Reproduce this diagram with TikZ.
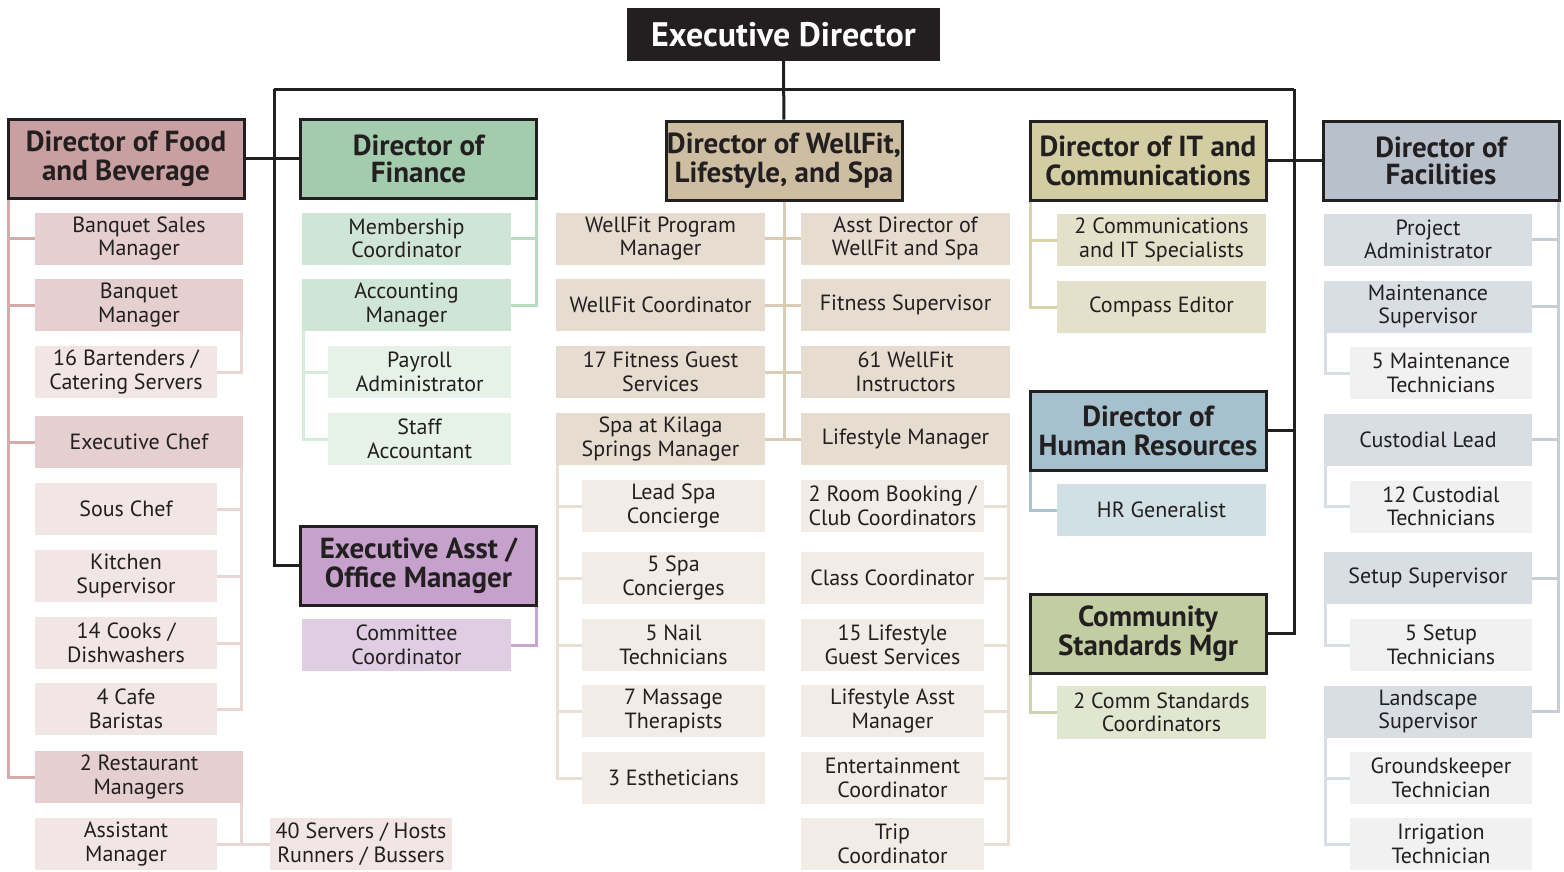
\documentclass[tikz,border=0pt]{standalone}
\usepackage{fontspec}
\setmainfont{PT Sans}
\definecolor{ink}{HTML}{231F20}
\definecolor{fbdir}{HTML}{C9A0A1}\definecolor{fbmid}{HTML}{E5CFD0}\definecolor{fblow}{HTML}{F1E5E5}
\definecolor{fbline}{HTML}{D4AAAB}\definecolor{fbthin}{HTML}{E9D6D6}
\definecolor{findir}{HTML}{A3CBAD}\definecolor{finmid}{HTML}{CFE5D5}\definecolor{finlow}{HTML}{E6F1E8}
\definecolor{finline}{HTML}{B8DCC2}\definecolor{finthin}{HTML}{D7EBDC}
\definecolor{eadir}{HTML}{C5A1CB}\definecolor{eamid}{HTML}{E0CDE4}\definecolor{ealine}{HTML}{C9A6CF}
\definecolor{wfdir}{HTML}{CDBEA2}\definecolor{wfmid}{HTML}{E6DCD0}\definecolor{wflow}{HTML}{F1ECE5}
\definecolor{wfline}{HTML}{D9CDB5}\definecolor{wfthin}{HTML}{E8E0D5}
\definecolor{itdir}{HTML}{D2CDA2}\definecolor{itmid}{HTML}{E4E1CB}\definecolor{itline}{HTML}{D7D3AC}
\definecolor{hrdir}{HTML}{A4C1CD}\definecolor{hrmid}{HTML}{D0E0E5}\definecolor{hrline}{HTML}{A9C5D1}
\definecolor{csdir}{HTML}{C2CDA2}\definecolor{csmid}{HTML}{E0E6D0}\definecolor{csline}{HTML}{CAD4AF}
\definecolor{facdir}{HTML}{B8C0CC}\definecolor{facmid}{HTML}{D9DEE5}\definecolor{faclow}{HTML}{F1F1F1}
\definecolor{facline}{HTML}{C6CDD7}\definecolor{facthin}{HTML}{D9DEE5}
\begin{document}
\begin{tikzpicture}[x=1pt,y=-1pt,every node/.style={inner sep=0pt,align=center,text=ink},
    dirbox/.style={draw=ink,line width=3pt,minimum width=236pt,minimum height=79pt,font=\fontsize{29}{29}\selectfont\bfseries},
    tight/.style={font=\fontsize{29}{27}\selectfont\bfseries},
    midbox/.style={minimum width=209pt,minimum height=52pt,font=\fontsize{22}{23.5}\selectfont},
    lowbox/.style={midbox,minimum width=183pt},
    link/.style={line width=3pt,draw=ink},
    spine/.style={line width=3pt}]
    \useasboundingbox (0,0) rectangle (1564,871);
    % top of the chart
    \node[fill=ink,minimum width=313pt,minimum height=53pt,text=white,font=\fontsize{34}{36}\selectfont\bfseries] (ed) at (783.5,34.5) {Executive Director};
    \coordinate (barL) at (274,89);
    \coordinate (barR) at (1294,89);

    % Food and Beverage
    \node[dirbox,fill=fbdir] (fb) at (126,158.5) {Director of Food\\and Beverage};
    \node[midbox,minimum width=208pt,fill=fbmid] (bsm) at (139,238.5) {Banquet Sales\\Manager};
    \node[midbox,minimum width=208pt,fill=fbmid] (bqm) at (139,305) {Banquet\\Manager};
    \node[lowbox,minimum width=182pt,fill=fblow] (bart) at (126,372) {16 Bartenders /\\Catering Servers};
    \node[midbox,minimum width=208pt,fill=fbmid] (chef) at (139,442) {Executive Chef};
    \node[lowbox,minimum width=182pt,fill=fblow] (sous) at (126,509) {Sous Chef};
    \node[lowbox,minimum width=182pt,fill=fblow] (kit) at (126,576) {Kitchen\\Supervisor};
    \node[lowbox,minimum width=182pt,fill=fblow] (cook) at (126,643) {14 Cooks /\\Dishwashers};
    \node[lowbox,minimum width=182pt,fill=fblow] (bari) at (126,709) {4 Cafe\\Baristas};
    \node[midbox,minimum width=208pt,fill=fbmid] (rest) at (139,777) {2 Restaurant\\Managers};
    \node[lowbox,minimum width=182pt,fill=fblow] (asst) at (126,844) {Assistant\\Manager};
    \node[lowbox,minimum width=182pt,fill=fblow] (serv) at (361,844) {40 Servers / Hosts\\Runners / Bussers};
    \foreach \n in {bsm,bqm,chef,rest}
        \draw[spine,fbline] ([xshift=2pt]fb.south west) |- (\n.west);
    \draw[spine,fbthin] ([xshift=-1.5pt]bqm.south east) |- (bart.east);
    \foreach \n in {sous,kit,cook,bari}
        \draw[spine,fbthin] ([xshift=-1.5pt]chef.south east) |- (\n.east);
    \draw[spine,fbthin] ([xshift=-1.5pt]rest.south east) |- (asst.east);
    \draw[spine,fbthin] ([xshift=-1.5pt]rest.south east) |- (serv.west);

    % Finance
    \node[dirbox,tight,fill=findir] (fin) at (418.5,158.5) {Director of\\Finance};
    \node[midbox,fill=finmid] (mem) at (406.5,238.5) {Membership\\Coordinator};
    \node[midbox,fill=finmid] (acc) at (406.5,305) {Accounting\\Manager};
    \node[lowbox,fill=finlow] (pay) at (419.5,372) {Payroll\\Administrator};
    \node[lowbox,fill=finlow] (stf) at (419.5,439) {Staff\\Accountant};
    \foreach \n in {mem,acc}
        \draw[spine,finline] ([xshift=-1.5pt]fin.south east) |- (\n.east);
    \foreach \n in {pay,stf}
        \draw[spine,finthin] ([xshift=2pt]acc.south west) |- (\n.west);

    % Executive Asst
    \node[dirbox,fill=eadir] (ea) at (418.5,565.5) {Executive Asst /\\Office Manager};
    \node[midbox,fill=eamid] (com) at (406.5,645) {Committee\\Coordinator};
    \draw[spine,ealine] ([xshift=-1.5pt]ea.south east) |- (com.east);

    % WellFit, Lifestyle and Spa
    \node[dirbox,fill=wfdir] (wf) at (784,160.5) {Director of WellFit,\\Lifestyle, and Spa};
    \node[midbox,fill=wfmid] (wpm) at (660.5,238.5) {WellFit Program\\Manager};
    \node[midbox,fill=wfmid] (wco) at (660.5,305) {WellFit Coordinator};
    \node[midbox,fill=wfmid] (fgs) at (660.5,372) {17 Fitness Guest\\Services};
    \node[midbox,fill=wfmid] (spa) at (660.5,439) {Spa at Kilaga\\Springs Manager};
    \node[midbox,fill=wfmid] (adw) at (905.5,238.5) {Asst Director of\\WellFit and Spa};
    \node[midbox,fill=wfmid] (fsu) at (905.5,305) {Fitness Supervisor};
    \node[midbox,fill=wfmid] (wfi) at (905.5,372) {61 WellFit\\Instructors};
    \node[midbox,fill=wfmid] (lsm) at (905.5,439) {Lifestyle Manager};
    \node[lowbox,fill=wflow] (lsc) at (673.5,506) {Lead Spa\\Concierge};
    \node[lowbox,fill=wflow] (spc) at (673.5,578) {5 Spa\\Concierges};
    \node[lowbox,fill=wflow] (nail) at (673.5,645) {5 Nail\\Technicians};
    \node[lowbox,fill=wflow] (mass) at (673.5,711) {7 Massage\\Therapists};
    \node[lowbox,fill=wflow] (esth) at (673.5,778) {3 Estheticians};
    \node[lowbox,fill=wflow] (rbc) at (892.5,506) {2 Room Booking /\\Club Coordinators};
    \node[lowbox,fill=wflow] (cco) at (892.5,578) {Class Coordinator};
    \node[lowbox,fill=wflow] (lgs) at (892.5,645) {15 Lifestyle\\Guest Services};
    \node[lowbox,fill=wflow] (laa) at (892.5,711) {Lifestyle Asst\\Manager};
    \node[lowbox,fill=wflow] (ent) at (892.5,778) {Entertainment\\Coordinator};
    \node[lowbox,fill=wflow] (trip) at (892.5,844) {Trip\\Coordinator};
    \foreach \n in {wpm,wco,fgs,spa}
        \draw[spine,wfline] (wf.south) |- (\n.east);
    \foreach \n in {adw,fsu,wfi,lsm}
        \draw[spine,wfline] (wf.south) |- (\n.west);
    \foreach \n in {lsc,spc,nail,mass,esth}
        \draw[spine,wfthin] ([xshift=1.5pt]spa.south west) |- (\n.west);
    \foreach \n in {rbc,cco,lgs,laa,ent,trip}
        \draw[spine,wfthin] ([xshift=-1.5pt]lsm.south east) |- (\n.east);

    % IT, HR and Community Standards
    \node[dirbox,fill=itdir] (it) at (1148,160.5) {Director of IT and\\Communications};
    \node[midbox,fill=itmid] (cis) at (1161.5,240) {2 Communications\\and IT Specialists};
    \node[midbox,fill=itmid] (ced) at (1161.5,307) {Compass Editor};
    \foreach \n in {cis,ced}
        \draw[spine,itline] ([xshift=2pt]it.south west) |- (\n.west);
    \node[dirbox,fill=hrdir] (hr) at (1148,430.5) {Director of\\Human Resources};
    \node[midbox,fill=hrmid] (hrg) at (1161.5,510) {HR Generalist};
    \draw[spine,hrline] ([xshift=2pt]hr.south west) |- (hrg.west);
    \node[dirbox,fill=csdir] (cs) at (1148,633.5) {Community\\Standards Mgr};
    \node[midbox,fill=csmid,minimum height=53pt] (csc) at (1161.5,712.5) {2 Comm Standards\\Coordinators};
    \draw[spine,csline] ([xshift=2pt]cs.south west) |- (csc.west);

    % Facilities
    \node[dirbox,tight,fill=facdir] (fac) at (1441,160.5) {Director of\\Facilities};
    \node[midbox,minimum width=208pt,fill=facmid] (pad) at (1428,239.5) {Project\\Administrator};
    \node[midbox,minimum width=208pt,fill=facmid] (msu) at (1428,306.5) {Maintenance\\Supervisor};
    \node[lowbox,minimum width=182pt,fill=faclow] (mte) at (1441,373) {5 Maintenance\\Technicians};
    \node[midbox,minimum width=208pt,fill=facmid] (cul) at (1428,439.5) {Custodial Lead};
    \node[lowbox,minimum width=182pt,fill=faclow] (cte) at (1441,506.5) {12 Custodial\\Technicians};
    \node[midbox,minimum width=208pt,fill=facmid] (ssu) at (1428,578) {Setup Supervisor};
    \node[lowbox,minimum width=182pt,fill=faclow] (ste) at (1441,645) {5 Setup\\Technicians};
    \node[midbox,minimum width=208pt,fill=facmid] (lsu) at (1428,711.5) {Landscape\\Supervisor};
    \node[lowbox,minimum width=182pt,fill=faclow] (gte) at (1441,778) {Groundskeeper\\Technician};
    \node[lowbox,minimum width=182pt,fill=faclow] (ite) at (1441,844) {Irrigation\\Technician};
    \foreach \n in {pad,msu,cul,ssu,lsu}
        \draw[spine,facline] ([xshift=-2pt]fac.south east) |- (\n.east);
    \draw[spine,facthin] ([xshift=2pt]msu.south west) |- (mte.west);
    \draw[spine,facthin] ([xshift=2pt]cul.south west) |- (cte.west);
    \draw[spine,facthin] ([xshift=2pt]ssu.south west) |- (ste.west);
    \foreach \n in {gte,ite}
        \draw[spine,facthin] ([xshift=2pt]lsu.south west) |- (\n.west);

    % black links between directors
    \draw[link] (ed) -- (wf);
    \draw[link] (barL) -- (barR);
    \draw[link] (barL) |- (ea.west);
    \draw[link] (fb.east) -- (fin.west);
    \draw[link] (it.east) -- (fac.west);
    \draw[link] (barR) |- (cs.east);
    \draw[link] (hr.east) -- (hr.east -| barR);
\end{tikzpicture}
\end{document}
